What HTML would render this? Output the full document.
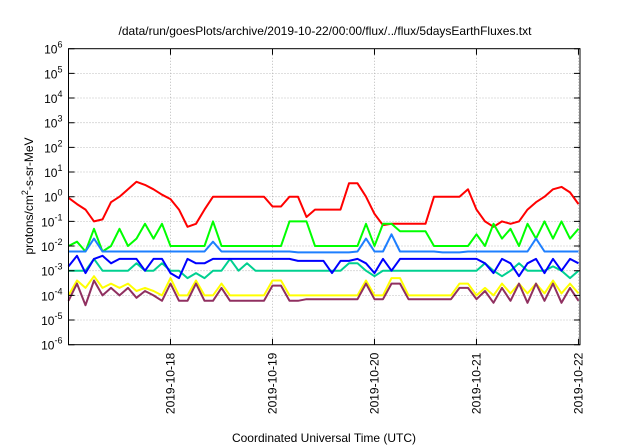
<!DOCTYPE html>
<html><head><meta charset="utf-8"><style>
body{margin:0;background:#fff;}
svg{display:block;font-family:"Liberation Sans",sans-serif;}
</style></head><body>
<svg id="chart" width="640" height="448" viewBox="0 0 640 448">
<text x="325" y="35" font-size="12" text-anchor="middle">/data/run/goesPlots/archive/2019-10-22/00:00/flux/../flux/5daysEarthFluxes.txt</text>
<text transform="translate(33,196) rotate(-90)" font-size="12" text-anchor="middle">protons/cm<tspan dy="-5" font-size="9">2</tspan><tspan dy="5">-s-sr-MeV</tspan></text>
<text x="324" y="442" font-size="12" text-anchor="middle">Coordinated Universal Time (UTC)</text>
<g id="grid"></g><g id="series"></g><g id="axes"></g>
</svg>
<script>
const dayLabels=["2019-10-18","2019-10-19","2019-10-20","2019-10-21","2019-10-22"];
const dayOffsets=[1,2,3,4,5];
const yExponents=[-6,-5,-4,-3,-2,-1,0,1,2,3,4,5,6];
const sampleStepHours=2;
const red=[0.9,0.5,0.3,0.1,0.12,0.6,1,2,4,3,2,1.2,0.8,0.3,0.06,0.08,0.3,1,1,1,1,1,1,1,0.4,0.4,1,1,0.15,0.3,0.3,0.3,0.3,3.5,3.5,1,0.2,0.07,0.08,0.08,0.08,0.08,0.08,1,1,1,1,2,0.3,0.1,0.06,0.1,0.08,0.1,0.3,0.6,1,2,2.5,1.5,0.5];
const green=[0.01,0.015,0.006,0.05,0.006,0.01,0.05,0.01,0.02,0.08,0.02,0.08,0.01,0.01,0.01,0.01,0.01,0.1,0.01,0.01,0.01,0.01,0.01,0.01,0.01,0.01,0.1,0.1,0.1,0.01,0.01,0.01,0.01,0.01,0.01,0.08,0.01,0.08,0.08,0.04,0.04,0.04,0.04,0.01,0.01,0.01,0.01,0.01,0.03,0.01,0.08,0.02,0.05,0.01,0.08,0.02,0.1,0.02,0.1,0.02,0.05];
const lightBlue=[0.006,0.006,0.006,0.02,0.006,0.006,0.006,0.006,0.006,0.006,0.006,0.006,0.006,0.006,0.006,0.006,0.006,0.015,0.006,0.006,0.006,0.006,0.006,0.006,0.006,0.006,0.006,0.0055,0.0055,0.0055,0.0055,0.0055,0.0055,0.0055,0.006,0.02,0.006,0.006,0.03,0.006,0.006,0.006,0.006,0.006,0.0055,0.0055,0.0055,0.006,0.006,0.006,0.006,0.006,0.006,0.006,0.006,0.02,0.006,0.006,0.006,0.006,0.006];
const blue=[0.0015,0.004,0.0008,0.003,0.004,0.002,0.003,0.003,0.003,0.001,0.003,0.003,0.0008,0.0005,0.003,0.002,0.002,0.003,0.003,0.003,0.003,0.003,0.003,0.003,0.003,0.003,0.003,0.0025,0.0025,0.0025,0.0025,0.0008,0.0025,0.0025,0.003,0.002,0.0008,0.003,0.001,0.003,0.003,0.003,0.003,0.003,0.003,0.003,0.003,0.003,0.003,0.002,0.0008,0.003,0.002,0.0006,0.002,0.003,0.0008,0.003,0.001,0.003,0.002];
const teal=[0.001,0.001,0.001,0.003,0.001,0.001,0.001,0.001,0.002,0.001,0.001,0.002,0.001,0.001,0.0005,0.0008,0.0005,0.001,0.001,0.003,0.001,0.002,0.001,0.001,0.001,0.001,0.001,0.001,0.001,0.001,0.001,0.001,0.001,0.002,0.002,0.001,0.0006,0.001,0.001,0.001,0.001,0.001,0.001,0.001,0.001,0.001,0.001,0.001,0.001,0.002,0.001,0.0006,0.001,0.002,0.001,0.001,0.001,0.0015,0.001,0.0005,0.001];
const yellow=[0.0001,0.0004,0.0002,0.0006,0.0002,0.0003,0.0002,0.0003,0.00015,0.0002,0.00015,0.0001,0.0005,0.0001,0.0001,0.0004,0.0001,0.0001,0.0003,0.0001,0.0001,0.0001,0.0001,0.0001,0.0004,0.0004,0.0001,0.0001,0.0001,0.0001,0.0001,0.0001,0.0001,0.0001,0.0001,0.0004,0.0001,0.0001,0.0005,0.0005,0.0001,0.0001,0.0001,0.0001,0.0001,0.0001,0.0003,0.0003,0.0001,0.0002,0.0001,0.0003,0.00012,0.0003,0.00012,0.0003,0.00012,0.0004,0.00012,0.0003,0.00012];
const purple=[0.00006,0.0003,0.00004,0.0004,0.0001,0.0002,0.0001,0.0002,0.00008,0.00015,0.0001,0.00006,0.0003,0.00006,0.00006,0.0003,0.00006,0.00006,0.0002,0.00006,0.00006,0.00006,0.00006,0.00006,0.00025,0.00025,0.00006,0.00006,0.00007,0.00007,0.00007,0.00007,0.00007,0.00007,0.00007,0.0003,0.00007,0.00007,0.0003,0.0003,0.00007,0.00007,0.00007,0.00007,0.00007,0.00007,0.0002,0.0002,0.00007,0.00015,0.00005,0.0002,0.00006,0.0003,0.00005,0.0003,0.00006,0.0003,0.00005,0.0002,0.00006];
const seriesList=[[red,"#ff0000","red-flux"],[green,"#00ff00","green-flux"],[lightBlue,"#1e7fff","light-blue-flux"],[teal,"#00d090","teal-flux"],[blue,"#0000ff","blue-flux"],[yellow,"#ffff00","yellow-flux"],[purple,"#903060","purple-flux"]];
const L=68.5,R=580,T=48.7,B=344.7,DAYS=5.015;
const ns="http://www.w3.org/2000/svg";
function xs(d){return L+(d/DAYS)*(R-L);}
function ys(v){return B-(Math.log10(v)+6)/12*(B-T);}
function mk(tag,attrs,parent){const e=document.createElementNS(ns,tag);for(const k in attrs)e.setAttribute(k,attrs[k]);parent.appendChild(e);return e;}
const grid=document.getElementById("grid"),axes=document.getElementById("axes"),ser=document.getElementById("series");
yExponents.forEach(p=>{const y=ys(Math.pow(10,p));
 if(p>-6&&p<6){const g=mk("line",{x1:L,x2:R,y1:y,y2:y,stroke:"#aaa","stroke-dasharray":"1,2","stroke-width":0.8},grid);
 
 }
 const tk=mk("path",{d:`M${L},${y}h6M${R},${y}h-6`,stroke:"#000"},axes);
 
 
 const t=mk("text",{x:L-6,y:y+5,"font-size":12,"text-anchor":"end"},axes);
 
 
 t.textContent="10";const s=mk("tspan",{dy:-6,"font-size":9},t);s.textContent=p;});
dayOffsets.forEach((d,i)=>{const x=xs(d);
 const g=mk("line",{x1:x,x2:x,y1:T,y2:B,stroke:"#aaa","stroke-dasharray":"1,2","stroke-width":0.8},grid);
 
 
 const tk=mk("path",{d:`M${x},${B}v-6M${x},${T}v6`,stroke:"#000"},axes);
 
 
 const t=mk("text",{transform:`translate(${x+4},${B+8}) rotate(-90)`,"font-size":12,"text-anchor":"end"},axes);
 
 
 t.textContent=dayLabels[i];});
const fr=mk("rect",{x:L,y:T,width:R-L,height:B-T,fill:"none",stroke:"#000","stroke-width":1},axes);


seriesList.forEach(([vals,col,name])=>{
 const pts=vals.map((v,i)=>xs(i*sampleStepHours/24).toFixed(1)+","+ys(v).toFixed(1)).join(" ");
 const pl=mk("polyline",{points:pts,fill:"none",stroke:col,"stroke-width":2,"stroke-linejoin":"round"},ser);
 
 });
</script>
</body></html>
